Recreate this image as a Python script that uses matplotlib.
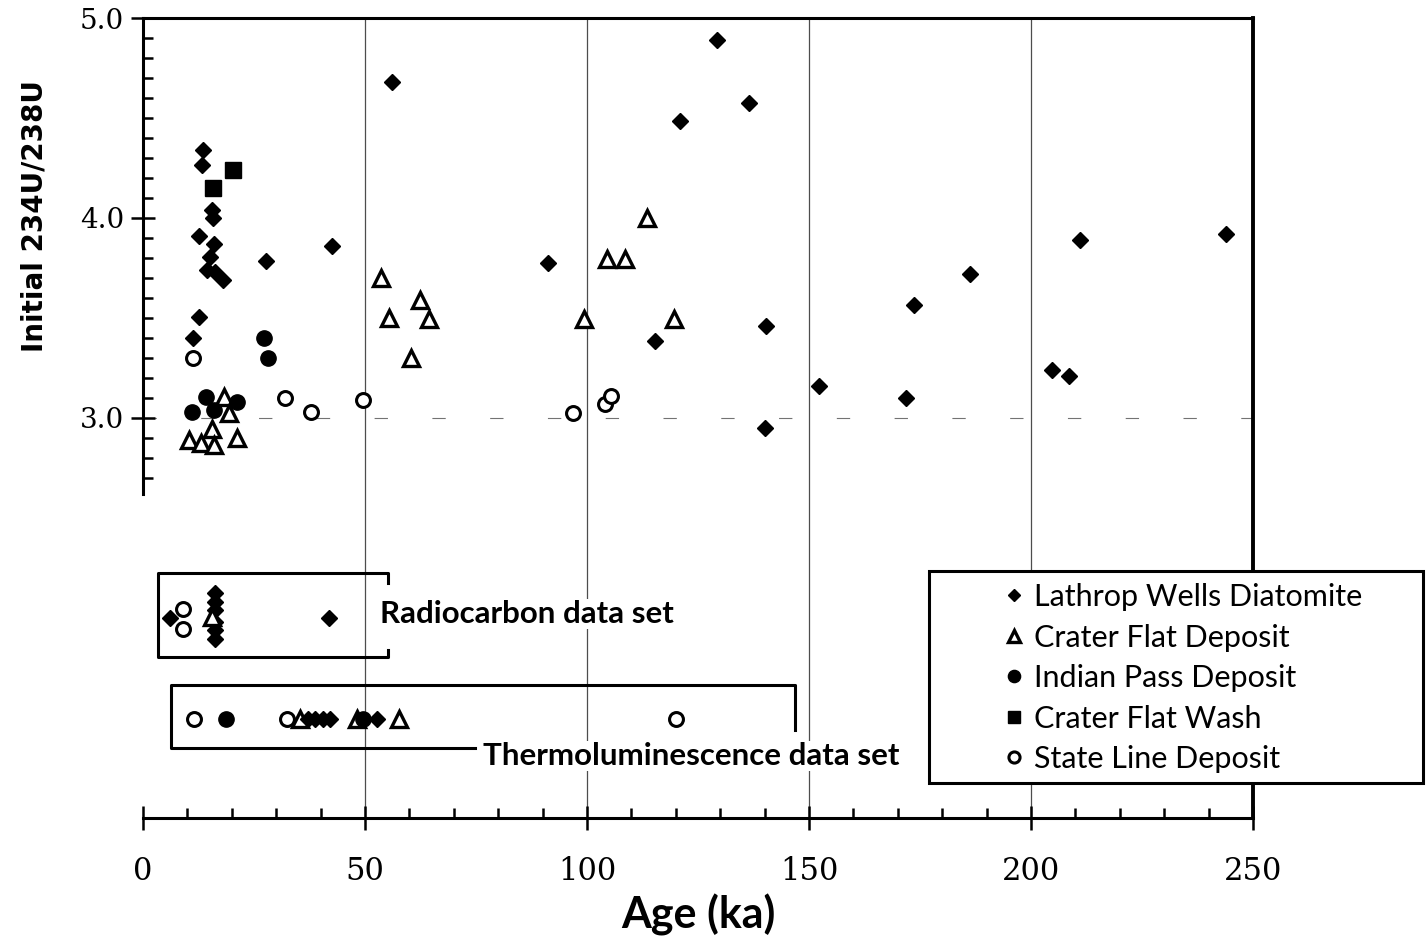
import numpy as np
import matplotlib
matplotlib.use('Agg')
from matplotlib import pyplot as plt
from matplotlib.patches import Rectangle
from matplotlib.ticker import MultipleLocator, FixedLocator

# main panel: age (ka) and initial 234U/238U
lw_age = [13.5, 13.3, 15.5, 15.8, 12.6, 16.0, 15.1, 14.4, 16.2, 18.0, 27.7, 42.6, 12.6, 11.3,
          56.1, 129.3, 121.0, 136.5, 91.2, 115.3, 140.3, 140.1, 152.3, 171.8, 173.6, 186.3,
          204.7, 208.6, 211.0, 243.9]
lw_ratio = [4.34, 4.265, 4.04, 4.0, 3.91, 3.87, 3.805, 3.74, 3.73, 3.69, 3.785, 3.86, 3.505, 3.40,
            4.68, 4.89, 4.485, 4.575, 3.775, 3.385, 3.46, 2.95, 3.16, 3.10, 3.565, 3.72,
            3.24, 3.21, 3.89, 3.92]

cfd_age = [53.6, 62.4, 55.4, 64.4, 60.4, 18.2, 19.4, 15.5, 10.4, 13.1, 16.0, 21.2,
           104.5, 108.6, 99.3, 119.6, 113.5]
cfd_ratio = [3.70, 3.59, 3.50, 3.495, 3.30, 3.105, 3.025, 2.945, 2.89, 2.875, 2.865, 2.90,
             3.795, 3.795, 3.495, 3.495, 4.0]

ip_age = [27.3, 28.2, 14.2, 21.2, 11.0, 16.0]
ip_ratio = [3.40, 3.30, 3.105, 3.08, 3.03, 3.04]

cfw_age = [15.8, 20.3]
cfw_ratio = [4.15, 4.24]

sl_age = [11.3, 32.0, 37.8, 49.5, 96.8, 104.1, 105.4]
sl_ratio = [3.30, 3.10, 3.03, 3.09, 3.025, 3.07, 3.11]

# radiocarbon data set row
rc_lw_age = [6.1, 16.2, 16.2, 16.2, 16.2, 16.2, 16.2, 41.9]
rc_lw_y = [2.0, 2.125, 2.08, 2.04, 1.98, 1.94, 1.895, 2.0]
rc_cfd_age = [15.5]
rc_cfd_y = [2.005]
rc_sl_age = [9.0, 9.0]
rc_sl_y = [2.045, 1.945]

# thermoluminescence data set row
tl_y = 1.495
tl_sl_age = [11.5, 32.4, 120.0]
tl_ip_age = [18.7, 49.5]
tl_cfd_age = [35.4, 48.2, 57.7]
tl_lw_age = [37.2, 38.7, 40.5, 42.1, 52.7]

labels = ['Lathrop Wells Diatomite', 'Crater Flat Deposit', 'Indian Pass Deposit',
          'Crater Flat Wash', 'State Line Deposit']

bold_font = ['Lato', 'DejaVu Sans']

fig = plt.figure(figsize=(14.26, 9.43), dpi=100)
ax = fig.add_axes([0.1003, 0.1326, 0.7784, 0.8483])
ax.set_xlim(0, 250)
ax.set_ylim(1.0, 5.0)

# grid
for gx in [50, 100, 150, 200]:
    ax.axvline(gx, color='0.3', lw=0.9, zorder=0.5)
ax.axhline(3.0, color='0.45', lw=0.8, dashes=(12, 40), zorder=0.5)

lw_style = dict(ls='none', marker='D', ms=8, mfc='black', mec='black', zorder=3)
cfd_style = dict(ls='none', marker='^', ms=11, mfc='white', mec='black', mew=2.4, zorder=3)
ip_style = dict(ls='none', marker='o', ms=11, mfc='black', mec='black', zorder=3)
cfw_style = dict(ls='none', marker='s', ms=11, mfc='black', mec='black', zorder=3)
sl_style = dict(ls='none', marker='o', ms=10, mfc='white', mec='black', mew=2.2, zorder=3)

h1, = ax.plot(lw_age, lw_ratio, **lw_style)
h2, = ax.plot(cfd_age, cfd_ratio, **cfd_style)
h3, = ax.plot(ip_age, ip_ratio, **ip_style)
h4, = ax.plot(cfw_age, cfw_ratio, **cfw_style)
h5, = ax.plot(sl_age, sl_ratio, **sl_style)

# radiocarbon row
ax.plot(rc_sl_age, rc_sl_y, **sl_style)
ax.plot(rc_lw_age, rc_lw_y, **lw_style)
ax.plot(rc_cfd_age, rc_cfd_y, **cfd_style)

# thermoluminescence row
ax.plot(tl_sl_age, [tl_y] * len(tl_sl_age), **sl_style)
ax.plot(tl_cfd_age, [tl_y] * len(tl_cfd_age), **cfd_style)
ax.plot(tl_ip_age, [tl_y] * len(tl_ip_age), **ip_style)
ax.plot(tl_lw_age, [tl_y] * len(tl_lw_age), **lw_style)

# bracket boxes
ax.plot([55.2, 55.2, 3.4, 3.4, 55.2, 55.2], [2.175, 2.225, 2.225, 1.805, 1.805, 1.84],
        color='black', lw=2.2, zorder=2)
ax.plot([74.8, 6.3, 6.3, 146.8, 146.8], [1.35, 1.35, 1.665, 1.665, 1.44],
        color='black', lw=2.2, zorder=2)
ax.text(53.4, 2.02, 'Radiocarbon data set', ha='left', va='center', fontsize=22.5,
        fontweight='bold', family=bold_font, zorder=4,
        bbox=dict(fc='white', ec='none', pad=1))
ax.text(76.6, 1.31, 'Thermoluminescence data set', ha='left', va='center', fontsize=22.5,
        fontweight='bold', family=bold_font, zorder=4,
        bbox=dict(fc='white', ec='none', pad=1))

# spines and ticks
for s in ax.spines.values():
    s.set_linewidth(2.2)
ax.spines['right'].set_linewidth(2.8)
ax.spines['left'].set_bounds(2.62, 5.0)

ax.set_xticks([0, 50, 100, 150, 200, 250])
ax.xaxis.set_minor_locator(MultipleLocator(10))
ax.set_yticks([3.0, 4.0, 5.0])
ax.set_yticklabels(['3.0', '4.0', '5.0'])
ax.yaxis.set_minor_locator(FixedLocator([2.7, 2.8, 2.9, 3.1, 3.2, 3.3, 3.4, 3.5, 3.6, 3.7, 3.8,
                                         3.9, 4.1, 4.2, 4.3, 4.4, 4.5, 4.6, 4.7, 4.8, 4.9]))
ax.tick_params(which='major', direction='inout', length=17, width=1.8)
ax.tick_params(which='minor', direction='in', length=7, width=1.8)
ax.tick_params(axis='x', which='major', pad=19)
ax.tick_params(axis='y', which='major', pad=5)
for t in ax.get_xticklabels():
    t.set_family('DejaVu Serif')
    t.set_fontsize(22)
for t in ax.get_yticklabels():
    t.set_family('DejaVu Serif')
    t.set_fontsize(20)

ax.set_xlabel('Age (ka)', fontsize=31, fontweight='bold', family=bold_font)
ax.xaxis.set_label_coords(0.5, -0.095)
ax.xaxis.label.set_va('top')
ax.set_ylabel('Initial 234U/238U', fontsize=20, fontweight='bold')
ax.yaxis.set_label_coords(-0.085, 0.7525)

# legend box
fig.patches.append(Rectangle((929 / 1426, (943 - 783) / 943), (1423 - 929) / 1426, (783 - 571) / 943,
                             transform=fig.transFigure, fc='white', ec='black', lw=2.2, zorder=5))
fig.legend([h1, h2, h3, h4, h5], labels, loc='upper left',
           bbox_to_anchor=(999 / 1426, 1 - 583 / 943), frameon=False,
           prop={'family': 'Lato', 'size': 22}, handlelength=1.0, handletextpad=0.15,
           borderpad=0, borderaxespad=0, labelspacing=0.41, markerscale=0.8)

fig.savefig('out.png', dpi=100)
